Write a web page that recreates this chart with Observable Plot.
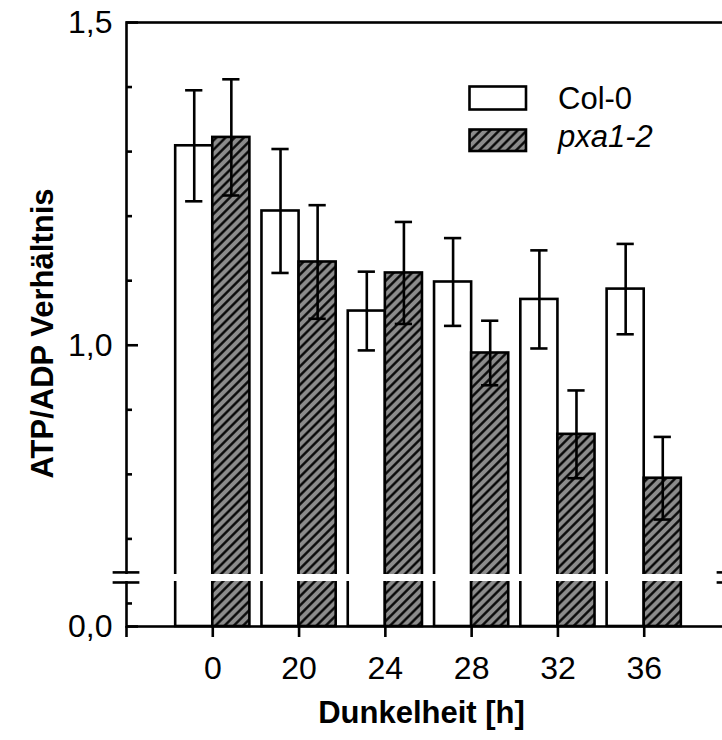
<!DOCTYPE html>
<html><head><meta charset="utf-8">
<script src="https://cdn.jsdelivr.net/npm/d3@7"></script>
<script src="https://cdn.jsdelivr.net/npm/@observablehq/plot@0.6"></script>
<style>
html,body{margin:0;padding:0;background:#fff;overflow:hidden;}
#wrap{position:relative;width:722px;height:740px;overflow:hidden;background:#fff;}
#legend{position:absolute;left:0;top:0;pointer-events:none;}
</style></head><body>
<svg width="0" height="0" style="position:absolute"><defs>
<pattern id="hatch" patternUnits="userSpaceOnUse" width="6.5" height="6.5" patternTransform="rotate(45)">
<rect width="6.5" height="6.5" fill="#8c8c8c"/><line x1="3.25" y1="-1" x2="3.25" y2="7.5" stroke="#000" stroke-width="2.3"/>
</pattern></defs></svg>
<div id="wrap"></div>
<script>
// ---- data ----
const categories = ["0", "20", "24", "28", "32", "36"];
const seriesNames = ["Col-0", "pxa1-2"];
const col0Mean = [1.309, 1.208, 1.053, 1.098, 1.071, 1.087];
const col0Err  = [0.086, 0.096, 0.061, 0.068, 0.076, 0.070];
const pxaMean  = [1.322, 1.129, 1.112, 0.988, 0.862, 0.794];
const pxaErr   = [0.090, 0.088, 0.079, 0.050, 0.068, 0.064];
const yTickValues = [0, 1.0, 1.5];
const yTickLabels = ["0,0", "1,0", "1,5"];
const yMinorTicks = [0.05, 0.7, 0.8, 0.9, 1.1, 1.2, 1.3, 1.4];
const xLabel = "Dunkelheit [h]";
const yLabel = "ATP/ADP Verhältnis";

// ---- broken y axis: values below BREAK_AT are drawn in a compressed lower segment ----
const BREAK_AT = 0.6, U_ZERO = 0.5643, LOW_SCALE = 0.714;
const toU = v => v >= BREAK_AT ? v : U_ZERO + v * LOW_SCALE;
const BREAK_U = 0.6403, BREAK_HALF = 0.0078, BREAK_MARK = 0.155;

const W = 736, H = 740, ML = 126, MR = 6, MT = 22, MB = 114;
const frameW = W - ML - MR, frameH = H - MT - MB;
const BAR_W = 0.43, CAP = 0.1, SW = 2.6;
const X_MIN = -1, X_MAX = categories.length;
const TICK_FS = 32, TITLE_FS = 31, LEG_FS = 31;

const rows = categories.flatMap((c, i) => [
  {cat: c, i, series: seriesNames[0], side: -1, mean: col0Mean[i], err: col0Err[i]},
  {cat: c, i, series: seriesNames[1], side: 1, mean: pxaMean[i], err: pxaErr[i]}
]);
const colRows = rows.filter(d => d.series === seriesNames[0]);
const pxaRows = rows.filter(d => d.series === seriesNames[1]);
const barX1 = d => d.i + (d.side < 0 ? -BAR_W : 0);
const barX2 = d => d.i + (d.side < 0 ? 0 : BAR_W);
const errX = d => d.i + d.side * BAR_W / 2;
const yLabelByU = new Map(yTickValues.map((v, k) => [toU(v), yTickLabels[k]]));

const font = "'Liberation Sans', Arial, Helvetica, sans-serif";
const chart = Plot.plot({
  width: W, height: H, marginLeft: ML, marginRight: MR, marginTop: MT, marginBottom: MB,
  style: {fontFamily: font, fontSize: "30px", maxWidth: "none", background: "white", color: "black"},
  x: {domain: [X_MIN, X_MAX]},
  y: {domain: [U_ZERO, 1.5]},
  marks: [
    Plot.rect(colRows, {x1: barX1, x2: barX2, y1: U_ZERO, y2: d => toU(d.mean), fill: "white", stroke: "black", strokeWidth: SW}),
    Plot.rect(pxaRows, {x1: barX1, x2: barX2, y1: U_ZERO, y2: d => toU(d.mean), fill: "url(#hatch)", stroke: "black", strokeWidth: SW}),
    Plot.ruleX(rows, {x: errX, y1: d => toU(d.mean - d.err), y2: d => toU(d.mean + d.err), stroke: "black", strokeWidth: SW}),
    Plot.ruleY(rows, {y: d => toU(d.mean + d.err), x1: d => errX(d) - CAP, x2: d => errX(d) + CAP, stroke: "black", strokeWidth: SW}),
    Plot.ruleY(rows, {y: d => toU(d.mean - d.err), x1: d => errX(d) - CAP, x2: d => errX(d) + CAP, stroke: "black", strokeWidth: SW}),
    Plot.frame({stroke: "black", strokeWidth: SW}),
    Plot.tickX([X_MIN], {stroke: "black", strokeWidth: SW, insetTop: frameH, insetBottom: -11}),
    Plot.tickY(yTickValues.map(toU), {stroke: "black", strokeWidth: SW, insetRight: frameW - 12}),
    Plot.tickY(yMinorTicks.map(toU), {stroke: "black", strokeWidth: SW, insetRight: frameW - 6}),
    // white gap of the axis break
    Plot.ruleY([BREAK_U], {stroke: "white", strokeWidth: 7, insetLeft: -4, insetRight: -4}),
    Plot.ruleY([BREAK_U - BREAK_HALF, BREAK_U + BREAK_HALF], {x1: X_MIN - BREAK_MARK, x2: X_MIN + BREAK_MARK, stroke: "black", strokeWidth: SW}),
    Plot.ruleY([BREAK_U - BREAK_HALF, BREAK_U + BREAK_HALF], {x1: X_MAX - BREAK_MARK, x2: X_MAX + BREAK_MARK, stroke: "black", strokeWidth: SW}),
    Plot.axisX(categories.map((c, i) => i), {tickFormat: i => categories[i], tickSize: 11, tickPadding: 19, strokeWidth: SW, fontSize: TICK_FS, label: null}),
    Plot.axisY(yTickValues.map(toU), {tickSize: 0, tickPadding: 14, tickFormat: u => yLabelByU.get(u), fontSize: TICK_FS, label: null}),
    Plot.text([xLabel], {frameAnchor: "bottom", dy: 87, dx: -7, textAnchor: "middle", lineAnchor: "middle", fontWeight: "bold", fontSize: TITLE_FS}),
    Plot.text([yLabel], {frameAnchor: "left", rotate: -90, dx: -83, dy: 9, textAnchor: "middle", lineAnchor: "middle", fontWeight: "bold", fontSize: TITLE_FS})
  ]
});
const wrap = document.getElementById("wrap");
wrap.appendChild(chart);

// ---- legend (overlay inside the plot area) ----
const NS = "http://www.w3.org/2000/svg";
const leg = document.createElementNS(NS, "svg");
leg.setAttribute("id", "legend");
leg.setAttribute("width", 722); leg.setAttribute("height", 200);
const legFills = ["white", "url(#hatch)"];
const legRows = [{y: 86.5, h: 23, ty: 109, italic: false}, {y: 129.5, h: 21.5, ty: 147, italic: true}];
seriesNames.forEach((name, k) => {
  const r = document.createElementNS(NS, "rect");
  r.setAttribute("x", 469.5); r.setAttribute("y", legRows[k].y);
  r.setAttribute("width", 56.5); r.setAttribute("height", legRows[k].h);
  r.setAttribute("fill", legFills[k]); r.setAttribute("stroke", "black"); r.setAttribute("stroke-width", SW);
  leg.appendChild(r);
  const t = document.createElementNS(NS, "text");
  t.setAttribute("x", 558); t.setAttribute("y", legRows[k].ty);
  t.setAttribute("font-family", font); t.setAttribute("font-size", LEG_FS);
  if (legRows[k].italic) t.setAttribute("font-style", "italic");
  t.textContent = name;
  leg.appendChild(t);
});
wrap.appendChild(leg);
</script>
</body></html>
